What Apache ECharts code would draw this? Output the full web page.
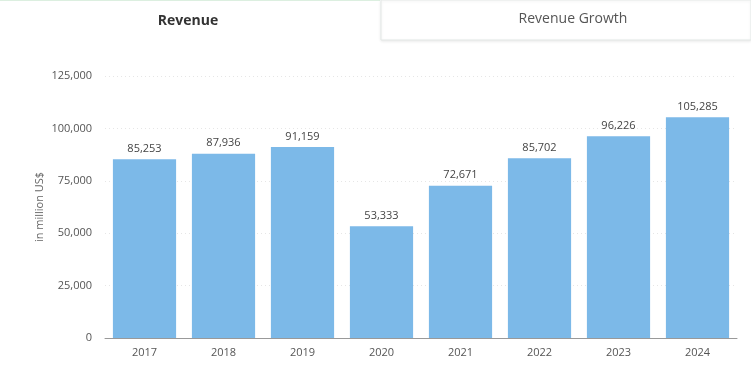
<!DOCTYPE html>
<html><head><meta charset="utf-8">
<script src="https://cdn.jsdelivr.net/npm/echarts@6/dist/echarts.min.js"></script>
<style>html,body{margin:0;padding:0;background:#fff}#c{width:751px;height:373px}</style>
</head><body><div id="c"></div>
<script>
const categories = ['2017','2018','2019','2020','2021','2022','2023','2024'];
const revenue = [85253, 87936, 91159, 53333, 72671, 85702, 96226, 105285];
const yTicks = [0, 25000, 50000, 75000, 100000, 125000];
const tabs = ['Revenue', 'Revenue Growth'];
const yName = 'in million US$';

const chart = echarts.init(document.getElementById('c'), null, {renderer:'canvas'});
const fmt = v => v.toLocaleString('en-US');
chart.setOption({
  animation:false,
  backgroundColor:'#fff',
  graphic:[
    {type:'rect', shape:{x:0,y:0,width:380,height:1}, style:{fill:'#dcefe0'}},
    {type:'rect', shape:{x:381,y:0,width:370,height:40}, style:{fill:'#fff', stroke:'#e3e8e6', lineWidth:1, shadowColor:'rgba(0,0,0,0.08)', shadowBlur:3, shadowOffsetY:1}},
    {type:'text', x:188, y:21, style:{text:tabs[0], font:'bold 14px "Open Sans"', fill:'#333', align:'center', verticalAlign:'middle'}},
    {type:'text', x:573, y:19, style:{text:tabs[1], font:'14px "Open Sans"', fill:'#555', align:'center', verticalAlign:'middle'}}
  ],
  grid:{left:105, right:14, top:76, bottom:35, containLabel:false},
  xAxis:{type:'category', data:categories,
    axisLine:{lineStyle:{color:'#999'}}, axisTick:{show:false},
    axisLabel:{color:'#555', fontSize:11, fontFamily:'Open Sans', margin:9}},
  yAxis:{type:'value', min:yTicks[0], max:yTicks[yTicks.length-1], interval:yTicks[1]-yTicks[0],
    name:yName, nameLocation:'middle', nameGap:60, nameRotate:90, nameMoveOverlap:false,
    nameTextStyle:{color:'#666', fontSize:11, fontFamily:'Open Sans'},
    axisLine:{show:false}, axisTick:{show:false},
    axisLabel:{color:'#555', fontSize:11, fontFamily:'Open Sans', margin:13, formatter:v=>fmt(v)},
    splitLine:{lineStyle:{color:'#e6e6e6', type:[1,3]}}},
  series:[{type:'bar', data:revenue, barCategoryGap:'20%',
    itemStyle:{color:'#7cb9e8'},
    label:{show:true, position:'top', distance:5, color:'#444', fontSize:11, fontFamily:'Open Sans', formatter:p=>fmt(p.value)}}]
});
</script></body></html>
